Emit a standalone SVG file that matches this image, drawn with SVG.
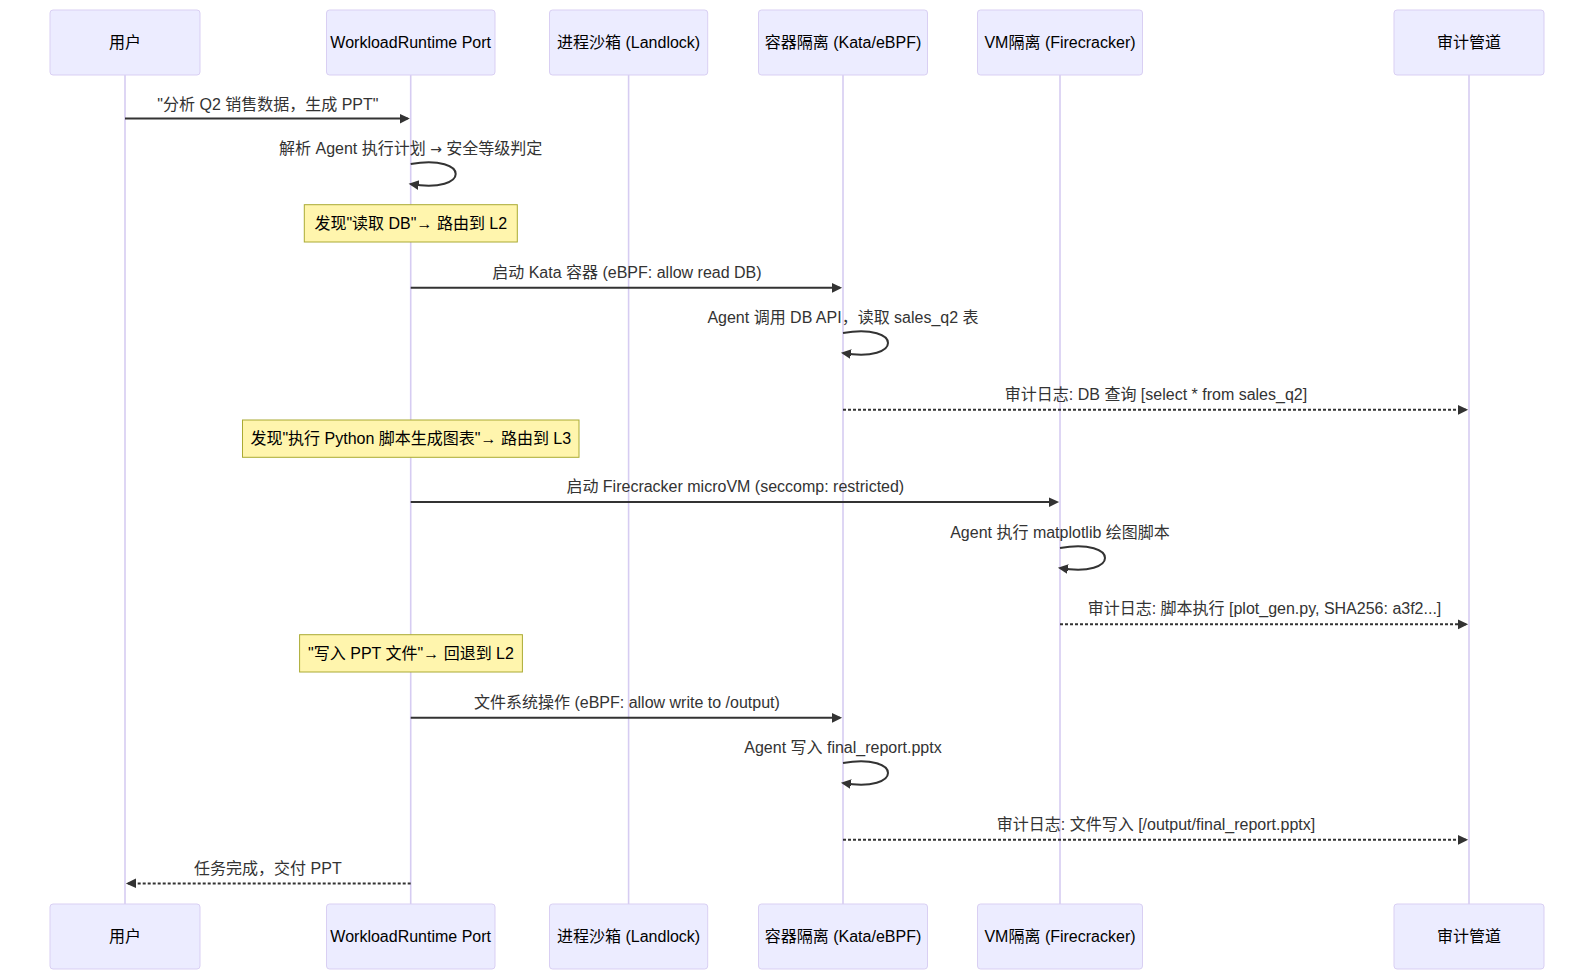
<svg xmlns="http://www.w3.org/2000/svg" width="1594" height="980" viewBox="0 0 1594 980">
<style>
text{font-family:"Liberation Sans","Noto Sans CJK SC",Arial,sans-serif;font-size:16px}
.actor{fill:#ECECFF;stroke:#D9CFF3;stroke-width:1}
.atext{fill:#000;text-anchor:middle;dominant-baseline:central}
.life{stroke:#D6CCF2;stroke-width:1.6}
.msg{fill:none;stroke:#333;stroke-width:2}
.dot{stroke-dasharray:3,2}
.mtext{fill:#333;text-anchor:middle}
.note{fill:#FFF5AD;stroke:#AAAA33;stroke-width:1}
.ntext{fill:#000;text-anchor:middle;dominant-baseline:central}
.arr{font-family:"DejaVu Sans",sans-serif;font-size:14px}
</style>
<defs>
<marker id="ah" refX="7.9" refY="5" markerUnits="userSpaceOnUse" markerWidth="12" markerHeight="12" orient="auto-start-reverse">
<path d="M -1 0 L 10 5 L 0 10 z" fill="#333"/>
</marker>
</defs>
<rect width="1594" height="980" fill="#fff"/>
<g id="lifelines">
<line class="life" x1="125" y1="75" x2="125" y2="904"/>
<line class="life" x1="410.7" y1="75" x2="410.7" y2="904"/>
<line class="life" x1="628.6" y1="75" x2="628.6" y2="904"/>
<line class="life" x1="843" y1="75" x2="843" y2="904"/>
<line class="life" x1="1060" y1="75" x2="1060" y2="904"/>
<line class="life" x1="1469" y1="75" x2="1469" y2="904"/>
</g>
<g id="actor-user">
<rect class="actor" x="50" y="10" width="150" height="65" rx="3"/>
<text class="atext" x="125" y="42.5">用户</text>
<rect class="actor" x="50" y="904" width="150" height="65" rx="3"/>
<text class="atext" x="125" y="936.5">用户</text>
</g>
<g id="actor-workload">
<rect class="actor" x="326.5" y="10" width="168.5" height="65" rx="3"/>
<text class="atext" x="410.7" y="42.5">WorkloadRuntime Port</text>
<rect class="actor" x="326.5" y="904" width="168.5" height="65" rx="3"/>
<text class="atext" x="410.7" y="936.5">WorkloadRuntime Port</text>
</g>
<g id="actor-process">
<rect class="actor" x="549.5" y="10" width="158.2" height="65" rx="3"/>
<text class="atext" x="628.6" y="42.5">进程沙箱 (Landlock)</text>
<rect class="actor" x="549.5" y="904" width="158.2" height="65" rx="3"/>
<text class="atext" x="628.6" y="936.5">进程沙箱 (Landlock)</text>
</g>
<g id="actor-container">
<rect class="actor" x="758.5" y="10" width="169" height="65" rx="3"/>
<text class="atext" x="843" y="42.5">容器隔离 (Kata/eBPF)</text>
<rect class="actor" x="758.5" y="904" width="169" height="65" rx="3"/>
<text class="atext" x="843" y="936.5">容器隔离 (Kata/eBPF)</text>
</g>
<g id="actor-vm">
<rect class="actor" x="977.5" y="10" width="165" height="65" rx="3"/>
<text class="atext" x="1060" y="42.5">VM隔离 (Firecracker)</text>
<rect class="actor" x="977.5" y="904" width="165" height="65" rx="3"/>
<text class="atext" x="1060" y="936.5">VM隔离 (Firecracker)</text>
</g>
<g id="actor-audit">
<rect class="actor" x="1394" y="10" width="150" height="65" rx="3"/>
<text class="atext" x="1469" y="42.5">审计管道</text>
<rect class="actor" x="1394" y="904" width="150" height="65" rx="3"/>
<text class="atext" x="1469" y="936.5">审计管道</text>
</g>
<g id="note-1">
<rect class="note" x="304.3" y="204.7" width="213" height="37.3"/>
<text class="ntext" x="410.8" y="223.3">发现"读取 DB"→ 路由到 L2</text>
</g>
<g id="note-2">
<rect class="note" x="242.5" y="420" width="336.5" height="37.3"/>
<text class="ntext" x="410.8" y="438.7">发现"执行 Python 脚本生成图表"→ 路由到 L3</text>
</g>
<g id="note-3">
<rect class="note" x="299.6" y="634.7" width="222.8" height="37.3"/>
<text class="ntext" x="411" y="653.3">"写入 PPT 文件"→ 回退到 L2</text>
</g>
<g id="connectors">
<line class="msg" x1="125" y1="118.5" x2="407.7" y2="118.5" marker-end="url(#ah)"/>
<text class="mtext" x="267.9" y="110">"分析 Q2 销售数据，生成 PPT"</text>

<path class="msg" d="M 410.7,164 C 470.7,154 470.7,194 410.7,184" marker-end="url(#ah)"/>
<text class="mtext" x="410.7" y="154">解析 Agent 执行计划 <tspan class="arr">→</tspan> 安全等级判定</text>

<line class="msg" x1="410.7" y1="287.7" x2="840" y2="287.7" marker-end="url(#ah)"/>
<text class="mtext" x="626.9" y="277.5">启动 Kata 容器 (eBPF: allow read DB)</text>

<path class="msg" d="M 843,333 C 903,323 903,363 843,353" marker-end="url(#ah)"/>
<text class="mtext" x="843" y="323">Agent 调用 DB API，读取 sales_q2 表</text>

<line class="msg dot" x1="843" y1="409.7" x2="1466" y2="409.7" marker-end="url(#ah)"/>
<text class="mtext" x="1156" y="399.5">审计日志: DB 查询 [select * from sales_q2]</text>

<line class="msg" x1="410.7" y1="502" x2="1057" y2="502" marker-end="url(#ah)"/>
<text class="mtext" x="735.3" y="492">启动 Firecracker microVM (seccomp: restricted)</text>

<path class="msg" d="M 1060,548 C 1120,538 1120,578 1060,568" marker-end="url(#ah)"/>
<text class="mtext" x="1060" y="538">Agent 执行 matplotlib 绘图脚本</text>

<line class="msg dot" x1="1060" y1="624.2" x2="1466" y2="624.2" marker-end="url(#ah)"/>
<text class="mtext" x="1264.5" y="614">审计日志: 脚本执行 [plot_gen.py, SHA256: a3f2...]</text>

<line class="msg" x1="410.7" y1="717.7" x2="840" y2="717.7" marker-end="url(#ah)"/>
<text class="mtext" x="626.9" y="707.7">文件系统操作 (eBPF: allow write to /output)</text>

<path class="msg" d="M 843,763 C 903,753 903,793 843,783" marker-end="url(#ah)"/>
<text class="mtext" x="843" y="753">Agent 写入 final_report.pptx</text>

<line class="msg dot" x1="843" y1="839.7" x2="1466" y2="839.7" marker-end="url(#ah)"/>
<text class="mtext" x="1156" y="829.7">审计日志: 文件写入 [/output/final_report.pptx]</text>

<line class="msg dot" x1="410.7" y1="883.4" x2="128" y2="883.4" marker-end="url(#ah)"/>
<text class="mtext" x="267.9" y="874">任务完成，交付 PPT</text>
</g>
</svg>
